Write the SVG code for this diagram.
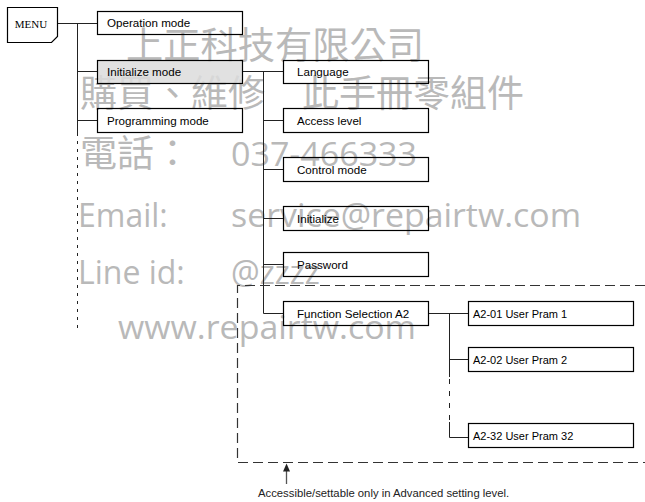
<svg xmlns="http://www.w3.org/2000/svg" width="645" height="502" viewBox="0 0 645 502">
<defs>
<style>
.wm{fill:#b9b9b9;}
.cjk{font-family:"Noto Sans CJK TC","Noto Sans CJK SC",sans-serif;font-size:37px;}
.lat{font-family:"Open Sans","Noto Sans",sans-serif;font-size:32px;}
.box{fill:none;stroke:#000;stroke-width:1.2;}
.lbl{font-family:"Liberation Sans",Arial,sans-serif;font-size:11.6px;fill:#000;}
.lbl2{font-family:"Liberation Sans",Arial,sans-serif;font-size:11px;fill:#000;}
.con{fill:none;stroke:#222;stroke-width:1;}
</style>
</defs>
<rect width="645" height="502" fill="#fff"/>
<g id="watermark" class="wm">
<text class="cjk" x="126" y="59" textLength="298" lengthAdjust="spacingAndGlyphs">上正科技有限公司</text>
<text class="cjk" x="80" y="107" textLength="444" lengthAdjust="spacingAndGlyphs">購買、維修　此手冊零組件</text>
<text class="cjk" x="80" y="167">電話：</text>
<text class="lat" x="231" y="166" textLength="186" lengthAdjust="spacingAndGlyphs">037-466333</text>
<text class="lat" x="78" y="227">Email:</text>
<text class="lat" x="231" y="227" textLength="350" lengthAdjust="spacingAndGlyphs">service@repairtw.com</text>
<text class="lat" x="78" y="284">Line id:</text>
<text class="lat" x="231" y="284">@zzzz</text>
<text class="lat" x="118" y="339" textLength="298" lengthAdjust="spacingAndGlyphs">www.repairtw.com</text>
</g>
<g id="connectors">
<path class="con" d="M57.5,23.5 H97.5"/>
<path class="con" d="M77.5,23.5 V133"/>
<path class="con" d="M77.5,133 V328" stroke-dasharray="3 5"/>
<path class="con" d="M77.5,71.5 H97.5 M77.5,120.5 H97.5"/>
<path class="con" d="M242.5,71.5 H283.5 M263.5,71.5 V313.5 M263.5,120.5 H283.5 M263.5,169.5 H283.5 M263.5,218.5 H283.5 M263.5,264.5 H283.5 M263.5,313.5 H283.5"/>
<path class="con" d="M428.5,313.5 H468.5 M449.5,313.5 V377 M449.5,359.5 H468.5"/>
<path class="con" d="M449.5,379 V422" stroke-dasharray="5 7"/>
<path class="con" d="M449.5,422 V437.5 H468.5"/>
<path d="M645,285.5 H237.5 V462.5 H645" fill="none" stroke="#333" stroke-width="1.2" stroke-dasharray="10 5"/>
<path d="M286.5,484 V470" fill="none" stroke="#555" stroke-width="1.3"/>
<polygon points="286.5,463.5 283,471.5 290,471.5" fill="#222"/>
</g>
<g id="menu">
<path class="box" d="M7.5,7.5 H57.5 V36.5 L51.5,42.5 H7.5 Z" stroke-width="1.4"/>
<text x="31" y="28" text-anchor="middle" font-family="'Liberation Serif','Times New Roman',serif" font-size="11" fill="#000">MENU</text>
</g>
<g id="operation-mode"><rect class="box" x="97.5" y="11.5" width="145" height="23"/><text class="lbl" x="107" y="27">Operation mode</text></g>
<g id="initialize-mode"><rect class="box" x="97.5" y="60.5" width="145" height="23" style="fill:#dcdcdc;fill-opacity:0.85"/><text class="lbl" x="107" y="76">Initialize mode</text></g>
<g id="programming-mode"><rect class="box" x="97.5" y="108.5" width="145" height="24"/><text class="lbl" x="107" y="124.5">Programming mode</text></g>
<g id="language"><rect class="box" x="283.5" y="60.5" width="145" height="23"/><text class="lbl" x="297" y="76">Language</text></g>
<g id="access-level"><rect class="box" x="283.5" y="108.5" width="145" height="24"/><text class="lbl" x="297" y="124.5">Access level</text></g>
<g id="control-mode"><rect class="box" x="283.5" y="157.5" width="145" height="24"/><text class="lbl" x="297" y="173.5">Control mode</text></g>
<g id="initialize"><rect class="box" x="283.5" y="206.5" width="145" height="24"/><text class="lbl" x="297" y="222.5">Initialize</text></g>
<g id="password"><rect class="box" x="283.5" y="252.5" width="145" height="24"/><text class="lbl" x="297" y="268.5">Password</text></g>
<g id="function-selection-a2"><rect class="box" x="283.5" y="301.5" width="145" height="24"/><text class="lbl" x="297" y="317.5">Function Selection A2</text></g>
<g id="a2-01"><rect class="box" x="468.5" y="301.5" width="165" height="24"/><text class="lbl2" x="473" y="317.5">A2-01 User Pram 1</text></g>
<g id="a2-02"><rect class="box" x="468.5" y="347.5" width="165" height="24"/><text class="lbl2" x="473" y="363.5">A2-02 User Pram 2</text></g>
<g id="a2-32"><rect class="box" x="468.5" y="423.5" width="165" height="24"/><text class="lbl2" x="473" y="439.5">A2-32 User Pram 32</text></g>
<g id="note"><text x="258" y="497" font-family="'Liberation Sans',Arial,sans-serif" font-size="11.3" fill="#222">Accessible/settable only in Advanced setting level.</text></g>
</svg>
